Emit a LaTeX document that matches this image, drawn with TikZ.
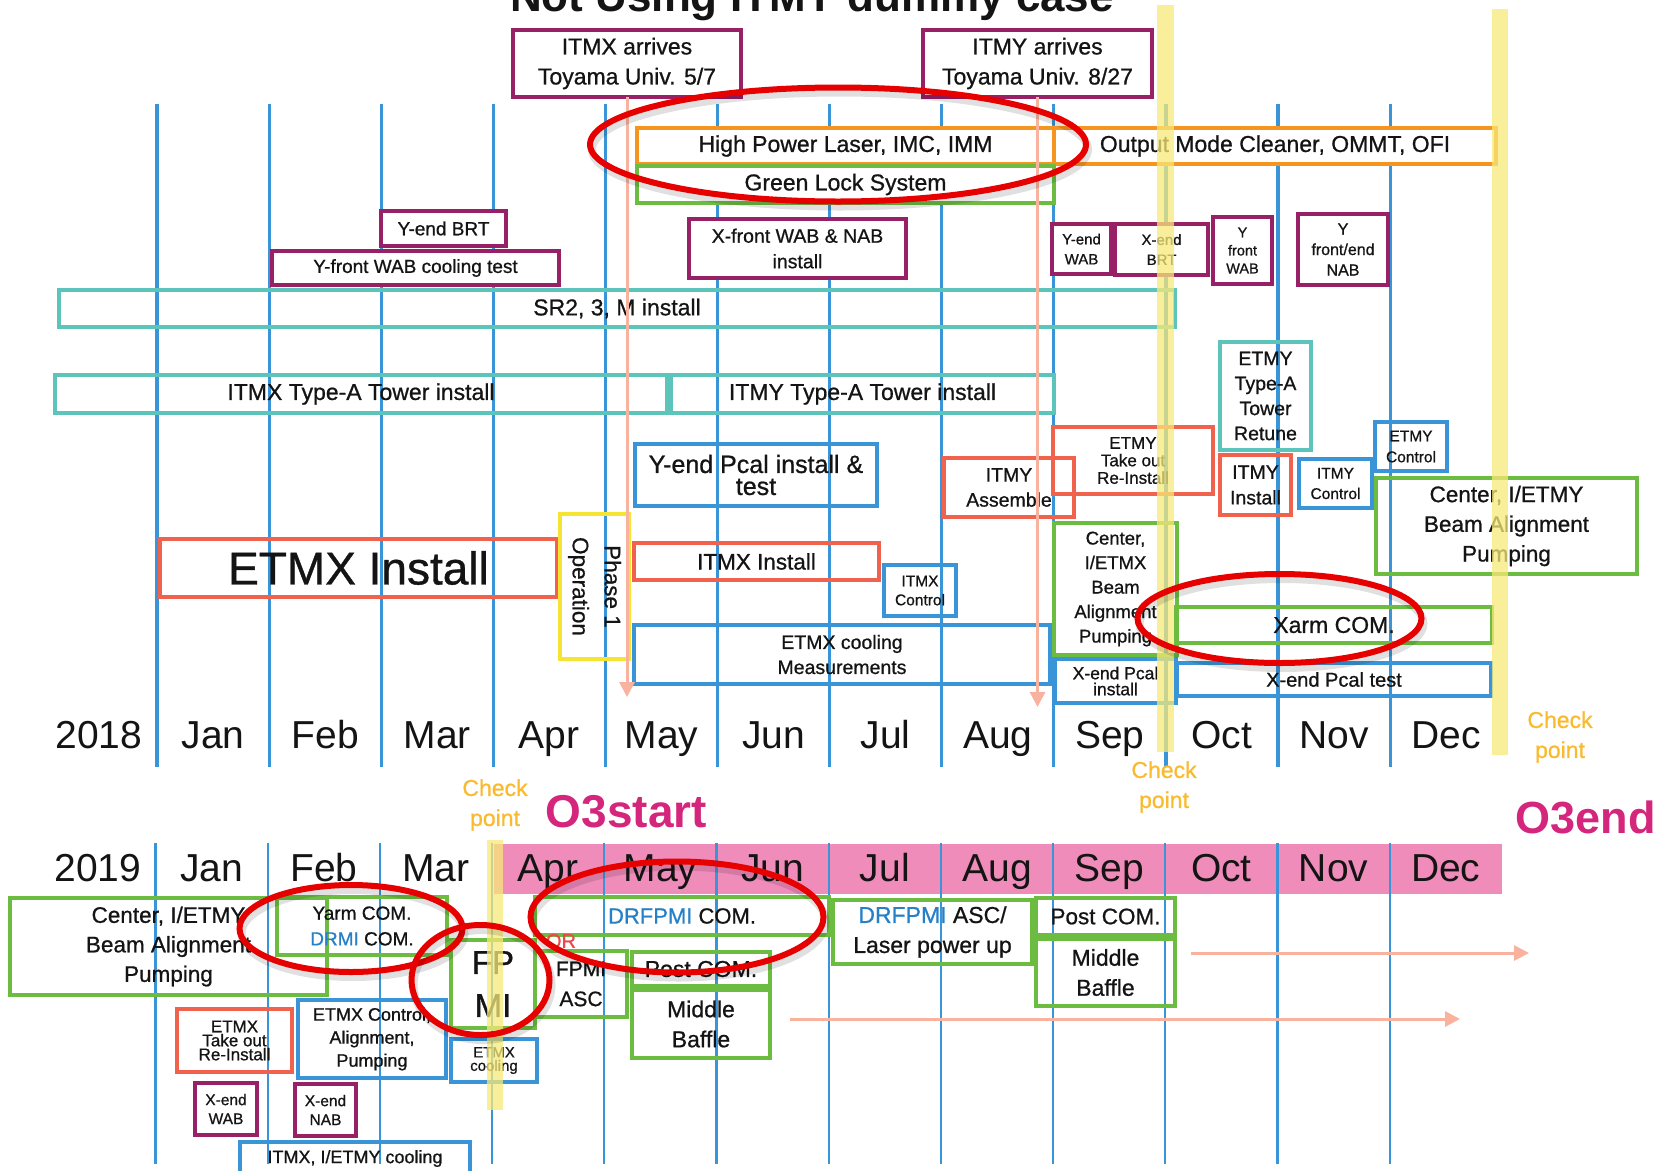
\documentclass[tikz,border=0pt]{standalone}
\usepackage{fontspec}
\setmainfont{Liberation Sans}
\newfontfamily\medfont{Liberation Sans}[FakeBold=0.8]
\usetikzlibrary{arrows.meta}
\definecolor{cblue}{RGB}{58,148,216}
\definecolor{cpur}{RGB}{152,32,102}
\definecolor{cteal}{RGB}{92,196,186}
\definecolor{cred}{RGB}{240,98,78}
\definecolor{cgreen}{RGB}{108,188,66}
\definecolor{corange}{RGB}{246,148,32}
\definecolor{cyelbox}{RGB}{246,228,50}
\definecolor{cyelbar}{RGB}{247,233,120}
\definecolor{ccheck}{RGB}{250,186,46}
\definecolor{csalmon}{RGB}{248,178,158}
\definecolor{cpink}{RGB}{240,140,186}
\definecolor{cmag}{RGB}{212,38,124}
\definecolor{cdr}{RGB}{38,128,200}
\definecolor{cor}{RGB}{236,72,72}
\definecolor{cell}{RGB}{230,0,0}
\definecolor{ctxt}{RGB}{20,20,20}
\newcommand{\fsz}[2]{\fontsize{#1}{#2}\selectfont\lineskiplimit=-100pt\relax}
\newcommand{\bx}[7]{%
 \pgfmathsetmacro{\bw}{#5-#3}\pgfmathsetmacro{\bh}{#6-#4}%
 \pgfmathsetmacro{\bcx}{(#3+#5)/2}\pgfmathsetmacro{\bcy}{(#4+#6)/2}%
 \node[#2, minimum width=\bw pt, minimum height=\bh pt] (#1) at (\bcx,\bcy) {#7};}
\begin{document}
\begin{tikzpicture}[x=1pt,y=-1pt,
 bx/.style={draw, line width=3.2pt, inner sep=0pt, outer sep=0pt, align=center, text=ctxt, execute at begin node=\medfont},
 pb/.style={bx, draw=cpur, fill=white},
 ob/.style={bx, draw=corange, fill=white},
 gb/.style={bx, draw=cgreen},
 gbf/.style={bx, draw=cgreen, fill=white},
 tb/.style={bx, draw=cteal},
 rb/.style={bx, draw=cred},
 bb/.style={bx, draw=cblue},
 yb/.style={bx, draw=cyelbox},
 mline/.style={cblue, line width=3.2pt},
 mline2/.style={cblue, line width=2.2pt},
 mon/.style={font=\fsz{39}{39}, anchor=base, text=ctxt, inner sep=0pt},
 chk/.style={font=\fsz{23}{30}, text=ccheck, align=center, inner sep=0pt, execute at begin node=\medfont},
 sarr/.style={csalmon, line width=3pt, -{Triangle[width=15pt,length=15pt]}},
 ybar/.style={fill=cyelbar, fill opacity=0.75},
 ell/.style={cell, line width=6pt},
 shd/.style={black, opacity=0.12, line width=8pt}]
\useasboundingbox (0,0) rectangle (1664,1170);
\fill[white] (0,0) rectangle (1664,1170);
% title (cut off at the top, as in the reference)
\node[font=\bfseries\fsz{44}{44}, anchor=base, text=ctxt, inner sep=0pt] (title) at (812,11) {Not Using ITMY dummy case};
% pink O3 band
\fill[cpink] (494,843.5) rectangle (1502,894);
% month lines
\foreach \k in {0,...,11} \draw[mline] ({157+112.1*\k},104) -- ({157+112.1*\k},767);
\foreach \k in {0,...,11} \draw[mline2] ({155.5+112.2*\k},843) -- ({155.5+112.2*\k},1164);
% month labels
\node[mon] (y18) at (99,748) {2018};
\foreach \m [count=\i from 0] in {Jan,Feb,Mar,Apr,May,Jun,Jul,Aug,Sep,Oct,Nov,Dec}
  \node[mon] (t\m) at ({213+112.1*\i},748) {\m};
\node[mon] (y19) at (98,881) {2019};
\foreach \m [count=\i from 0] in {Jan,Feb,Mar,Apr,May,Jun,Jul,Aug,Sep,Oct,Nov,Dec}
  \node[mon] (b\m) at ({211.6+112.2*\i},881) {\m};
% top boxes
\bx{arrX}{pb,font=\fsz{23}{30}}{513}{30}{741}{97}{ITMX arrives\\Toyama Univ. 5/7}
\bx{arrY}{pb,font=\fsz{23}{30}}{923}{30}{1152}{97}{ITMY arrives\\Toyama Univ. 8/27}
\bx{hpl}{ob,font=\fsz{23}{28}}{637}{128}{1054}{164}{High Power Laser, IMC, IMM}
\bx{omc}{ob,font=\fsz{23}{28}}{1054}{128}{1496}{164}{Output Mode Cleaner, OMMT, OFI}
\bx{gls}{gbf,font=\fsz{23}{28}}{637}{166}{1054}{203}{Green Lock System}
\bx{yebrt}{pb,font=\fsz{19}{24}}{381}{211}{506}{246}{Y-end BRT}
\bx{yfwab}{pb,font=\fsz{19}{24}}{272}{251}{559}{285}{Y-front WAB cooling test}
\bx{xfwab}{pb,font=\fsz{19.5}{25.5}}{689}{219}{906}{278}{X-front WAB \& NAB\\install}
\bx{sr2}{tb,font=\fsz{23}{28}}{59}{290}{1175}{327}{SR2, 3, M install}
\bx{itmxT}{tb,font=\fsz{23}{28}}{55}{375}{667}{413}{ITMX Type-A Tower install}
\bx{itmyT}{tb,font=\fsz{23}{28}}{671}{375}{1054}{413}{ITMY Type-A Tower install}
\bx{yewab}{pb,font=\fsz{15}{20}}{1052}{224}{1111}{274}{Y-end\\WAB}
\bx{xebrt}{pb,font=\fsz{15}{20}}{1115}{224}{1208}{275}{X-end\\BRT}
\bx{yfw}{pb,font=\fsz{14.5}{18}}{1213}{217}{1272}{284}{Y\\front\\WAB}
\bx{yfn}{pb,font=\fsz{16}{20.5}}{1298}{214}{1388}{285}{Y\\front/end\\NAB}
\bx{etmyT}{tb,font=\fsz{19.5}{25}}{1220}{342}{1311}{450}{ETMY\\Type-A\\Tower\\Retune}
\bx{etmyTO}{rb,font=\fsz{17}{17.5}}{1053}{427}{1213}{494}{ETMY\\Take out\\Re-Install}
\bx{itmyA}{rb,font=\fsz{19.5}{25}}{944}{458}{1074}{517}{ITMY\\Assemble}
\bx{itmyI}{rb,font=\fsz{19.5}{25.5}}{1220}{455}{1291}{515}{ITMY\\Install}
\bx{itmyC}{bb,font=\fsz{15.5}{20.5}}{1299}{459}{1372}{508}{ITMY\\Control}
\bx{etmyC}{bb,font=\fsz{15.5}{21}}{1375}{422}{1447}{471}{ETMY\\Control}
\bx{cetmy}{gb,font=\fsz{22.5}{29.7}}{1376}{478}{1637}{574}{Center, I/ETMY\\Beam Alignment\\Pumping}
\bx{yepcal}{bb,font=\fsz{25}{22}}{635}{444}{877}{506}{Y-end Pcal install \&\\test}
\bx{etmxI}{rb,font=\fsz{46}{50}}{160}{539}{557}{597}{ETMX Install}
\bx{op}{yb}{560}{514}{629}{659}{}
\node[font=\fsz{22.5}{32}, rotate=-90, align=center, text=ctxt, inner sep=0pt, execute at begin node=\medfont] (optxt) at (op.center) {Phase 1\\Operation};
\bx{itmxI}{rb,font=\fsz{22.5}{28}}{634}{543}{879}{580}{ITMX Install}
\bx{itmxC}{bb,font=\fsz{15.5}{19}}{884}{565}{956}{616}{ITMX\\Control}
\bx{etmxcm}{bb,font=\fsz{19.5}{25}}{634}{625}{1050}{684}{ETMX cooling\\Measurements}
\bx{cetmx}{gb,font=\fsz{18.5}{24.5}}{1054}{523}{1177}{655}{Center,\\I/ETMX\\Beam\\Alignment\\Pumping}
\bx{xepi}{bb,font=\fsz{17.5}{16}}{1055}{659}{1176}{703}{X-end Pcal\\install}
\bx{xarm}{gb,font=\fsz{23}{28}}{1176}{607}{1492}{643}{Xarm COM.}
\bx{xept}{bb,font=\fsz{20}{24}}{1177}{663}{1491}{696}{X-end Pcal test}
% bottom boxes
\bx{bcetmy}{gb,font=\fsz{22.5}{29.5}}{10}{898}{327}{995}{Center, I/ETMY\\Beam Alignment\\Pumping}
\bx{yarm}{gb,font=\fsz{19}{25.7}}{277}{897}{447}{955}{Yarm COM.\\\textcolor{cdr}{DRMI} COM.}
\bx{fpmi}{gb,font=\fsz{33}{43}}{451}{940}{535}{1028}{FP\\MI}
\bx{fpmiasc}{gb,font=\fsz{21}{30}}{535}{951}{627}{1017}{FPMI\\ASC}
\bx{drcom}{gb,font=\fsz{22}{28}}{535}{897}{829}{935}{\textcolor{cdr}{DRFPMI} COM.}
\bx{postA}{gb,font=\fsz{23}{28}}{632}{952}{770}{986}{Post COM.}
\bx{midA}{gb,font=\fsz{23}{30}}{632}{990}{770}{1058}{Middle\\Baffle}
\bx{drasc}{gb,font=\fsz{23}{30}}{833}{900}{1032}{964}{\textcolor{cdr}{DRFPMI} ASC/\\Laser power up}
\bx{postS}{gb,font=\fsz{22.5}{28}}{1036}{898}{1175}{935}{Post COM.}
\bx{midS}{gb,font=\fsz{23}{30}}{1036}{939}{1175}{1006}{Middle\\Baffle}
\bx{etmxTO}{rb,font=\fsz{17}{14}}{177}{1009}{292}{1072}{ETMX\\Take out\\Re-Install}
\bx{etmxCAP}{bb,font=\fsz{18}{23}}{298}{1000}{446}{1078}{ETMX Control,\\Alignment,\\Pumping}
\bx{etmxcool}{bb,font=\fsz{15}{13.4}}{451}{1039}{537}{1082}{ETMX\\cooling}
\bx{xewab}{pb,font=\fsz{15.5}{19}}{195}{1083}{257}{1135}{X-end\\WAB}
\bx{xenab}{pb,font=\fsz{15.5}{19}}{295}{1084}{356}{1136}{X-end\\NAB}
\bx{itmxcool}{bb,font=\fsz{18}{22}}{240}{1142}{470}{1175}{ITMX, I/ETMY cooling}
\node[font=\fsz{20}{20}, text=cor, inner sep=0pt, execute at begin node=\medfont] (ortxt) at (561,941) {OR};
% salmon arrows
\coordinate (a1e) at (627,697);
\coordinate (a2e) at (1037.5,707);
\draw[sarr] (arrX.south) -- (a1e);
\draw[sarr] (arrY.south) -- (a2e);
\coordinate (b1s) at (1191,953); \coordinate (b1e) at (1529,953);
\coordinate (b2s) at (790,1019); \coordinate (b2e) at (1460,1019);
\draw[sarr] (b1s) -- (b1e);
\draw[sarr] (b2s) -- (b2e);
% check point bars
\fill[ybar] (1157,5) rectangle (1174,752);
\fill[ybar] (1492,9) rectangle (1508,755);
\fill[ybar] (487,840) rectangle (503,1110);
\node[chk] (cp1) at (1560,737) {Check\\point};
\node[chk] (cp2) at (1164,787) {Check\\point};
\node[chk] (cp3) at (495,805) {Check\\point};
\node[font=\bfseries\fsz{46}{46}, text=cmag, inner sep=0pt] (o3s) at (626.5,812) {O3start};
\node[font=\bfseries\fsz{45}{45}, text=cmag, inner sep=0pt] (o3e) at (1585.5,817) {O3end};
% red ellipses
\foreach \cx/\cy/\rx/\ry in {838/144.5/248/57, 1279.5/618.5/142/44.5, 351/928.5/111.5/43.5, 480.5/980/69/55, 677/917/146.5/55.5} {
  \draw[shd] (\cx+2,\cy+5) ellipse [x radius=\rx pt, y radius=\ry pt];
  \draw[ell] (\cx,\cy) ellipse [x radius=\rx pt, y radius=\ry pt];
}
\end{tikzpicture}
\end{document}
